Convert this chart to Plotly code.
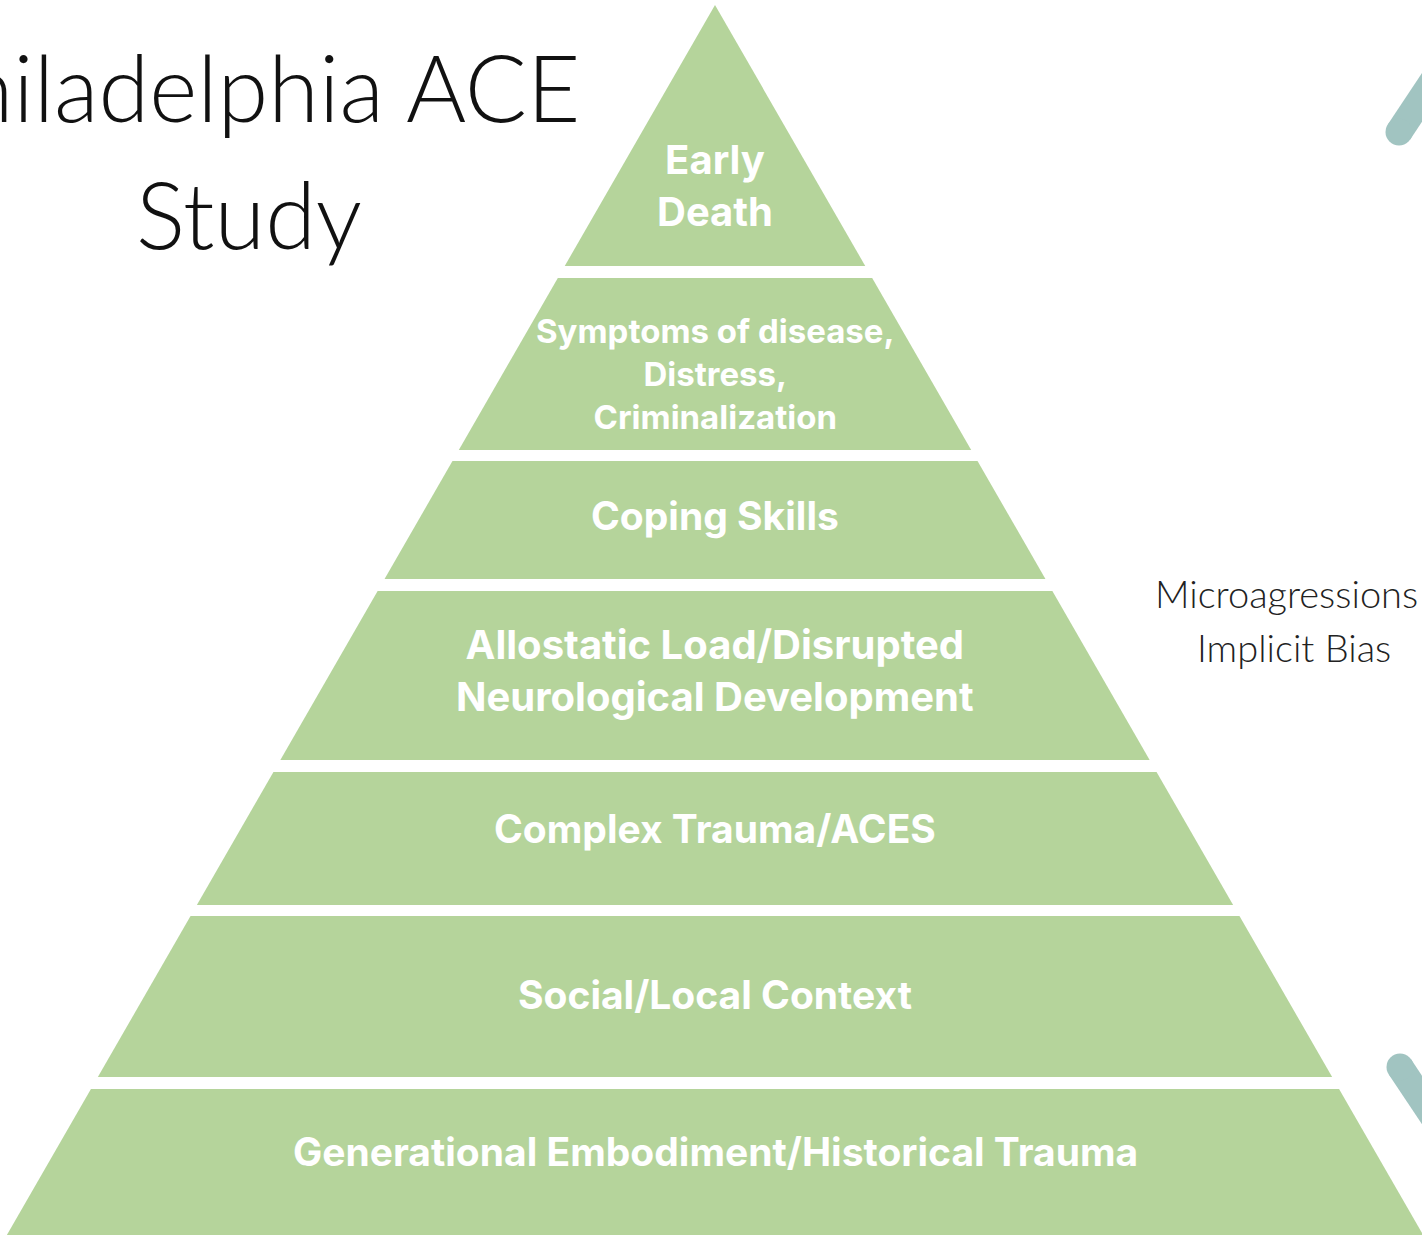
import plotly.graph_objects as go

# ---- data ----
layer_labels = [
    "Early<br>Death",
    "Symptoms of disease,<br>Distress,<br>Criminalization",
    "Coping Skills",
    "Allostatic Load/Disrupted<br>Neurological Development",
    "Complex Trauma/ACES",
    "Social/Local Context",
    "Generational Embodiment/Historical Trauma",
]
layer_top = [5, 278, 461, 591, 772, 916, 1089]
layer_bottom = [266, 450, 579, 760, 905, 1077, 1245]
label_y = [185, 374, 515, 670, 828, 994, 1151]
label_size = [40, 33, 39, 40, 39, 39, 39]

title_lines = ["Philadelphia ACE", "Study"]
side_lines = ["Microagressions", "Implicit Bias"]

# ---- geometry / style ----
W, H = 1422, 1235
APEX_X, APEX_Y = 715, 5
SLOPE = 0.5757
GREEN = "#b5d49b"
TEAL = "#a1c4c1"


def half(y):
    return (y - APEX_Y) * SLOPE


fig = go.Figure()

for t, b in zip(layer_top, layer_bottom):
    ht, hb = half(t), half(b)
    xs = [APEX_X - ht, APEX_X + ht, APEX_X + hb, APEX_X - hb, APEX_X - ht]
    ys = [t, t, b, b, t]
    fig.add_trace(go.Scatter(x=xs, y=ys, fill="toself", fillcolor=GREEN,
                             mode="lines", line=dict(width=0, color=GREEN),
                             hoverinfo="skip", showlegend=False))

for lab, y, s in zip(layer_labels, label_y, label_size):
    fig.add_annotation(x=APEX_X, y=y, text=lab, showarrow=False,
                       xanchor="center", yanchor="middle",
                       font=dict(family="Inter", size=s, color="white", weight="bold"))

# teal strokes
strokes = [((1399, 132), (1470, 25)), ((1400, 1067), (1470, 1172))]
for (x0, y0), (x1, y1) in strokes:
    fig.add_trace(go.Scatter(x=[x0, x1], y=[y0, y1], mode="lines",
                             line=dict(width=27, color=TEAL),
                             hoverinfo="skip", showlegend=False))
    fig.add_trace(go.Scatter(x=[x0], y=[y0], mode="markers",
                             marker=dict(size=27, color=TEAL, line=dict(width=0)),
                             hoverinfo="skip", showlegend=False))

# title
fig.add_annotation(x=582, y=86, text=title_lines[0], showarrow=False,
                   xanchor="right", yanchor="middle",
                   font=dict(family="Lato", size=92, color="#111111", weight=300))
fig.add_annotation(x=249, y=213, text=title_lines[1], showarrow=False,
                   xanchor="center", yanchor="middle",
                   font=dict(family="Lato", size=92, color="#111111", weight=300))

# side text
fig.add_annotation(x=1153, y=593, text=side_lines[0], showarrow=False,
                   xanchor="left", yanchor="middle",
                   font=dict(family="Lato", size=38, color="#222222", weight=300))
fig.add_annotation(x=1294, y=647, text=side_lines[1], showarrow=False,
                   xanchor="center", yanchor="middle",
                   font=dict(family="Lato", size=38, color="#222222", weight=300))

fig.update_layout(
    width=W, height=H,
    margin=dict(l=0, r=0, t=0, b=0),
    paper_bgcolor="white", plot_bgcolor="white",
    xaxis=dict(range=[0, W], visible=False, fixedrange=True),
    yaxis=dict(range=[H, 0], visible=False, fixedrange=True),
    showlegend=False,
)

fig.write_html("out.html",
               config={"displayModeBar": False},
               post_script="document.body.style.margin='0px';"
                           "document.body.style.overflow='hidden';")
